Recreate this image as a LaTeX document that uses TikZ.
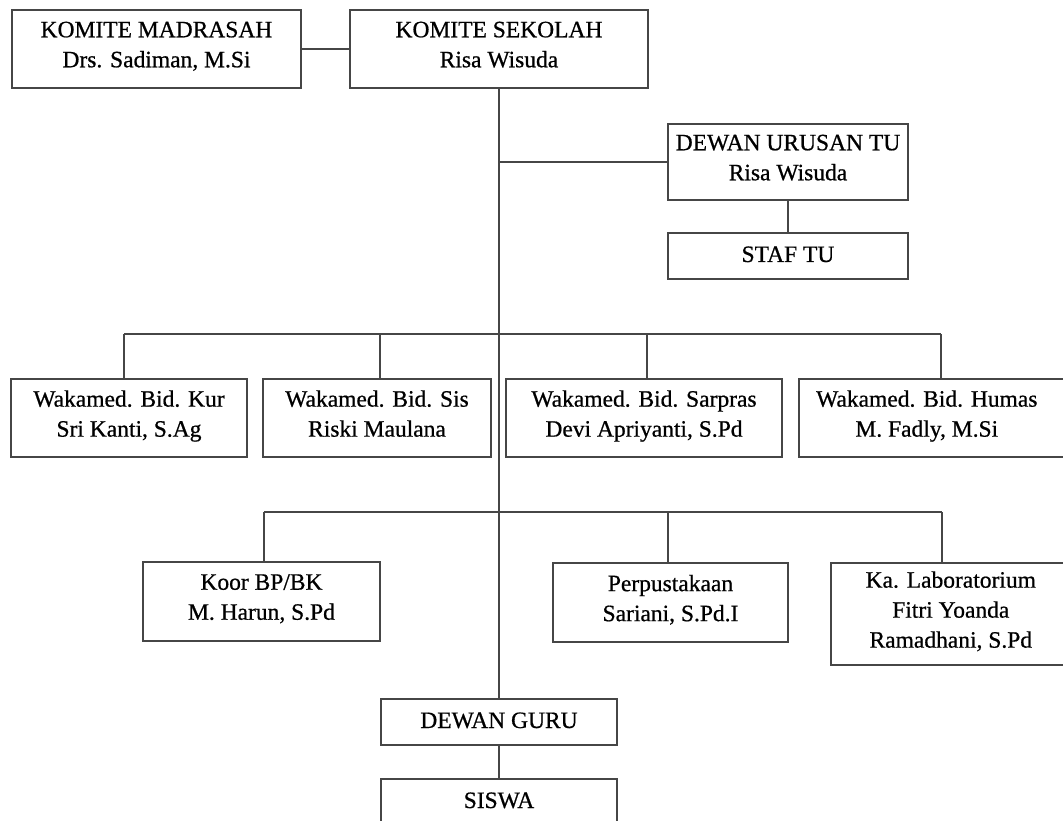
\documentclass[tikz,border=0pt]{standalone}
\usepackage{fontspec}
\setmainfont{Liberation Serif}[FakeBold=0.7]
\definecolor{linegray}{RGB}{70,70,70}
\begin{document}
\begin{tikzpicture}[x=1pt,y=-1pt,
  box/.style={draw=linegray, line width=1.6pt, fill=white, align=center,
    inner sep=0pt, font=\fontsize{23.5}{30}\selectfont,
    execute at begin node=\strut, execute at end node=\strut},
  link/.style={draw=linegray, line width=1.6pt}]
\useasboundingbox (0,0) rectangle (1063,821);
\fill[white] (0,0) rectangle (1063,821);
\clip (0,0) rectangle (1063,821);

% top
\node[box, minimum width=289pt, minimum height=78pt] (madrasah) at (156.5,49)
  {KOMITE MADRASAH\\Drs. Sadiman, M.Si};
\node[box, minimum width=298pt, minimum height=78pt] (sekolah) at (499,49)
  {KOMITE SEKOLAH\\Risa Wisuda};
\node[box, minimum width=240pt, minimum height=76pt] (dut) at (788,162)
  {DEWAN URUSAN TU\\Risa Wisuda};
\node[box, minimum width=240pt, minimum height=46pt] (staf) at (788,256)
  {STAF TU};

% wakamed row
\node[box, minimum width=236pt, minimum height=78pt] (w1) at (129,418)
  {Wakamed. Bid. Kur\\Sri Kanti, S.Ag};
\node[box, minimum width=228pt, minimum height=78pt] (w2) at (377,418)
  {Wakamed. Bid. Sis\\Riski Maulana};
\node[box, minimum width=276pt, minimum height=78pt] (w3) at (644,418)
  {Wakamed. Bid. Sarpras\\Devi Apriyanti, S.Pd};
\node[box, minimum width=272pt, minimum height=78pt, anchor=west] (w4) at (798,418)
  {\hspace*{-16pt}Wakamed. Bid. Humas\\\hspace*{-16pt}M. Fadly, M.Si};

% second row
\node[box, minimum width=237pt, minimum height=79pt] (koor) at (261.5,601.5)
  {Koor BP/BK\\M. Harun, S.Pd};
\node[box, minimum width=235pt, minimum height=79pt] (perp) at (670.5,602.5)
  {Perpustakaan\\Sariani, S.Pd.I};
\node[box, minimum width=240pt, minimum height=102pt, anchor=west] (lab) at (830,614)
  {Ka. Laboratorium\\Fitri Yoanda\\Ramadhani, S.Pd};

% bottom
\node[box, minimum width=236pt, minimum height=46pt] (guru) at (499,722)
  {DEWAN GURU};
\node[box, minimum width=236pt, minimum height=46pt] (siswa) at (499,802)
  {SISWA};

% bus coordinates
\coordinate (a1) at (124,334);
\coordinate (a2) at (380,334);
\coordinate (a3) at (647,334);
\coordinate (a4) at (941,334);
\coordinate (b1) at (264,512);
\coordinate (b2) at (668,512);
\coordinate (b3) at (942,512);

% connectors
\draw[link] (madrasah.east) -- (sekolah.west);
\draw[link] (sekolah.south) -- (guru.north);
\draw[link] (dut.west -| sekolah.south) -- (dut.west);
\draw[link] (dut.south) -- (staf.north);
\draw[link] (a1) -- (a4);
\draw[link] (a1) -- (a1 |- w1.north);
\draw[link] (a2) -- (a2 |- w2.north);
\draw[link] (a3) -- (a3 |- w3.north);
\draw[link] (a4) -- (a4 |- w4.north);
\draw[link] (b1) -- (b3);
\draw[link] (b1) -- (b1 |- koor.north);
\draw[link] (b2) -- (b2 |- perp.north);
\draw[link] (b3) -- (b3 |- lab.north);
\draw[link] (guru.south) -- (siswa.north);
\end{tikzpicture}
\end{document}
